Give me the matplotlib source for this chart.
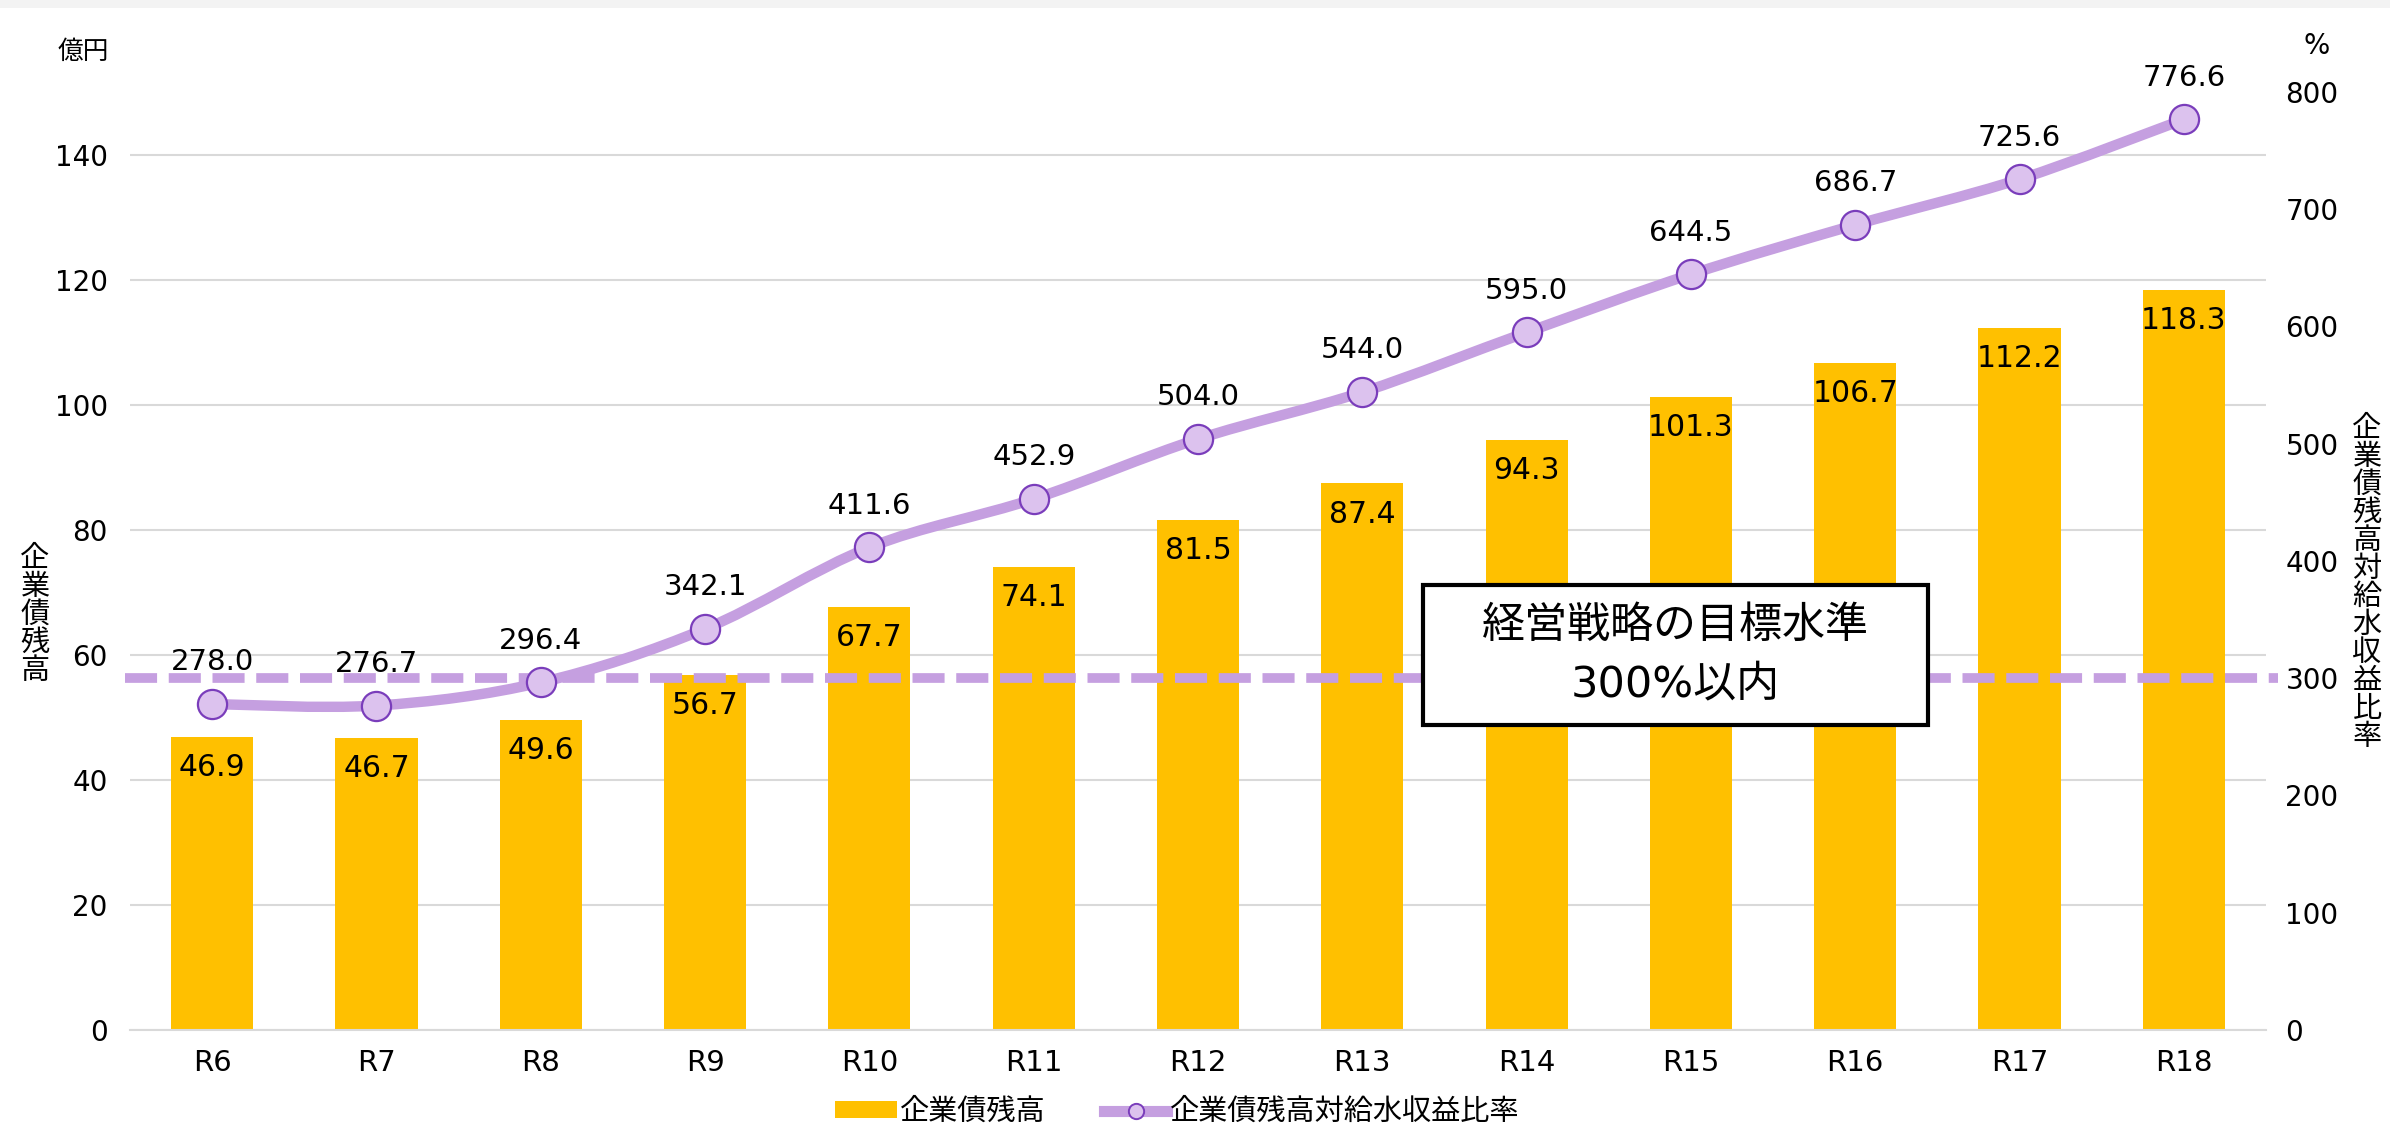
import matplotlib
matplotlib.use("Agg")
import matplotlib.pyplot as plt
from matplotlib.path import Path
from matplotlib.patches import PathPatch, Rectangle, Patch
from matplotlib.lines import Line2D

# 数字はDejaVu、漢字はNoto CJKで表示
plt.rcParams['font.family'] = ['DejaVu Sans', 'Noto Sans CJK JP']

# データ
years = ["R6", "R7", "R8", "R9", "R10", "R11", "R12", "R13", "R14", "R15", "R16", "R17", "R18"]
bond_balance = [46.9, 46.7, 49.6, 56.7, 67.7, 74.1, 81.5, 87.4, 94.3, 101.3, 106.7, 112.2, 118.3]
bond_ratio = [278.0, 276.7, 296.4, 342.1, 411.6, 452.9, 504.0, 544.0, 595.0, 644.5, 686.7, 725.6, 776.6]
target_ratio = 300

BAR_COLOR = "#FFC000"
LINE_COLOR = "#C59FE0"
MARKER_FACE = "#DCC2EE"
MARKER_EDGE = "#7A3DBB"
GRID_COLOR = "#D9D9D9"


def smooth_path(xs, ys):
    # Excel風のスムージング線（ベジェ曲線）
    pts = list(zip(xs, ys))
    n = len(pts)
    verts = [pts[0]]
    codes = [Path.MOVETO]
    for i in range(n - 1):
        p0 = pts[i - 1] if i > 0 else pts[i]
        p1 = pts[i]
        p2 = pts[i + 1]
        p3 = pts[i + 2] if i + 2 < n else pts[i + 1]
        c1 = (p1[0] + (p2[0] - p0[0]) / 6, p1[1] + (p2[1] - p0[1]) / 6)
        c2 = (p2[0] - (p3[0] - p1[0]) / 6, p2[1] - (p3[1] - p1[1]) / 6)
        verts += [c1, c2, p2]
        codes += [Path.CURVE4] * 3
    return Path(verts, codes)


fig = plt.figure(figsize=(23.9, 11.28), dpi=100)
ax = fig.add_axes([130 / 2390, 1 - 1030 / 1128, (2266 - 130) / 2390, (1030 - 92) / 1128])
ax2 = ax.twinx()

x = list(range(len(years)))

# 棒グラフ
ax.bar(x, bond_balance, width=0.5, color=BAR_COLOR, zorder=2)
for xi, v in zip(x, bond_balance):
    ax.annotate(f"{v:.1f}", (xi, v), xytext=(0, -22), textcoords="offset points",
                ha="center", va="center", fontsize=21.5, color="black", zorder=3)

ax.set_xlim(-0.5, len(years) - 0.5)
ax.set_ylim(0, 150)
ax.set_yticks(range(0, 141, 20))
ax.set_xticks(x)
ax.set_xticklabels(years)
ax.yaxis.grid(True, color=GRID_COLOR, linewidth=1.5, zorder=0)
ax.set_axisbelow(True)
for s in ["top", "left", "right"]:
    ax.spines[s].set_visible(False)
ax.spines["bottom"].set_color(GRID_COLOR)
ax.spines["bottom"].set_linewidth(1.5)
ax.tick_params(axis="y", length=0, labelsize=20, pad=16)
ax.tick_params(axis="x", length=0, labelsize=21, pad=14)

# 折れ線（比率）
ax2.set_ylim(0, 800)
ax2.set_yticks(range(0, 801, 100))
for s in ax2.spines.values():
    s.set_visible(False)
ax2.tick_params(axis="y", length=0, labelsize=20, pad=14)

curve = PathPatch(smooth_path(x, bond_ratio), facecolor="none", edgecolor=LINE_COLOR,
                  linewidth=7.5, capstyle="round", zorder=4)
ax2.add_patch(curve)
ax2.plot(x, bond_ratio, linestyle="none", marker="o", markersize=21,
         markerfacecolor=MARKER_FACE, markeredgecolor=MARKER_EDGE, markeredgewidth=1.6, zorder=5)
for xi, v in zip(x, bond_ratio):
    ax2.annotate(f"{v:.1f}", (xi, v), xytext=(0, 30), textcoords="offset points",
                 ha="center", va="center", fontsize=21, color="black", zorder=6)

# 目標水準の破線
ax2.plot([-0.53, len(years) - 0.43], [target_ratio, target_ratio], color=LINE_COLOR,
         linewidth=7, linestyle=(0, (3.3, 1.2)), clip_on=False, zorder=3.5)

# 目標水準の枠
fig.patches.append(Rectangle((1423 / 2390, 1 - 725 / 1128), 505 / 2390, 140 / 1128,
                             transform=fig.transFigure, facecolor="white",
                             edgecolor="black", linewidth=3, zorder=10))
fig.text(1675 / 2390, 1 - 626 / 1128, "経営戦略の目標水準", ha="center", va="center",
         fontsize=31, zorder=11)
fig.text(1675 / 2390, 1 - 684 / 1128, "300%以内", ha="center", va="center",
         fontsize=31, zorder=11)

# 単位・軸ラベル
fig.text(83 / 2390, 1 - 52 / 1128, "億円", ha="center", va="center", fontsize=18.5)
fig.text(2317 / 2390, 1 - 46 / 1128, "%", ha="center", va="center", fontsize=20)
fig.text(35 / 2390, 1 - 615 / 1128, "\n".join("企業債残高"), ha="center", va="center",
         fontsize=21, linespacing=1.0)
fig.text(2367 / 2390, 1 - 583 / 1128, "\n".join("企業債残高対給水収益比率"), ha="center",
         va="center", fontsize=21, linespacing=1.0)

# 上部の薄い帯
fig.patches.append(Rectangle((0, 1 - 8 / 1128), 1, 8 / 1128, transform=fig.transFigure,
                             facecolor="#F3F3F3", edgecolor="none", zorder=0))

# 凡例
handles = [
    Patch(facecolor=BAR_COLOR, edgecolor="none"),
    Line2D([0], [0], color=LINE_COLOR, linewidth=8, marker="o", markersize=11,
           markerfacecolor=MARKER_FACE, markeredgecolor=MARKER_EDGE, markeredgewidth=1.4),
]
fig.legend(handles, ["企業債残高", "企業債残高対給水収益比率"], loc="center",
           bbox_to_anchor=(1177 / 2390, 1 - 1112 / 1128), ncol=2, frameon=False,
           fontsize=21, handlelength=2.15, handleheight=0.5, columnspacing=2.0,
           handletextpad=0.1)

fig.savefig("out.png", dpi=100)
